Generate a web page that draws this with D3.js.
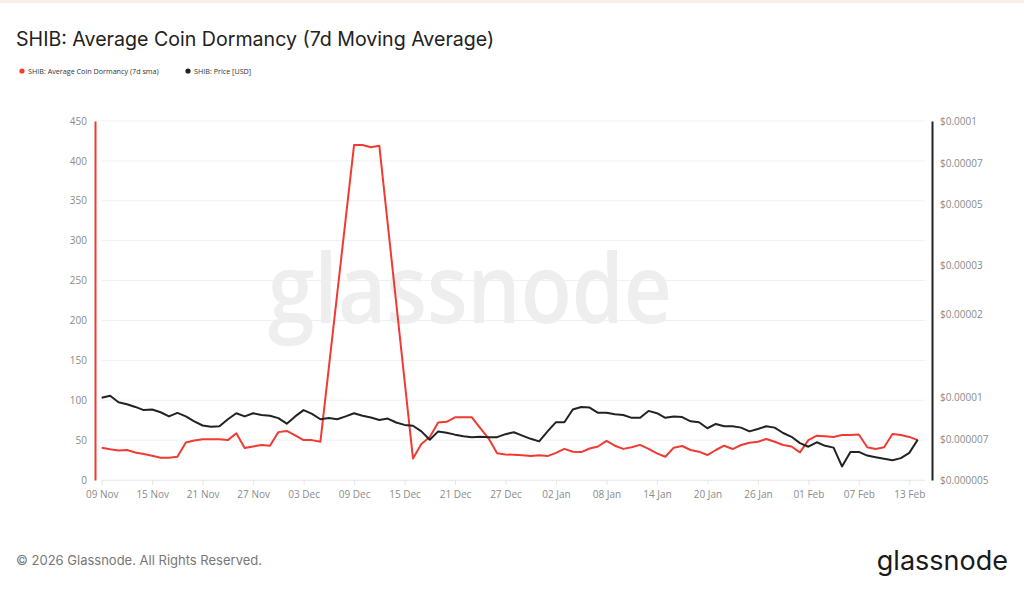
<!DOCTYPE html>
<html>
<head>
<meta charset="utf-8">
<script src="https://cdn.jsdelivr.net/npm/d3@7"></script>
<style>
  body { margin: 0; background: #fff; }
  svg { display: block; }
  .tick text { font-family: "Open Sans", "Noto Sans", sans-serif; }
</style>
</head>
<body>
<svg id="chart" width="1024" height="589"></svg>
<script>
// daily values, 09 Nov 2025 .. 14 Feb 2026
let start_date = new Date(Date.UTC(2025, 10, 9));

let dormancy = [
  40.5, 38.5, 37, 37.5, 34.5, 32.5, 30.5, 28, 28, 29,
  47, 49.5, 51, 51, 51, 50, 58.5, 40, 42, 44,
  43, 60, 61.5, 56, 50, 50, 48, 141, 234, 327,
  420, 420, 417, 419, 321, 223, 125, 27, 45, 54,
  72, 73, 78.5, 78.5, 78.5, 65, 52, 33.5, 32, 31.5,
  31, 30, 31, 30, 34, 39, 35.5, 35, 39.5, 42,
  49, 43, 39, 41, 44, 39, 33.4, 29.2, 40.5, 42.6,
  37.6, 35.5, 31.3, 37.6, 43, 38.8, 43.9, 46.8, 48, 51.4,
  48, 43.9, 42, 34.7, 50, 55.6, 54.7, 54, 56.4, 56.4,
  57, 41, 38.8, 41, 57.6, 56.4, 54, 50
];

// price in millionths of a dollar
let price_micro = [
  9.94, 10.1, 9.57, 9.41, 9.2, 8.96, 9.0, 8.8, 8.5, 8.75,
  8.5, 8.16, 7.88, 7.8, 7.83, 8.3, 8.73, 8.5, 8.73, 8.6,
  8.55, 8.38, 8.0, 8.5, 8.96, 8.68, 8.3, 8.38, 8.3, 8.5,
  8.73, 8.55, 8.42, 8.25, 8.35, 8.08, 7.92, 7.86, 7.5, 7.0,
  7.5, 7.42, 7.3, 7.2, 7.14, 7.17, 7.15, 7.15, 7.33, 7.45,
  7.24, 7.05, 6.9, 7.5, 8.1, 8.1, 9.0, 9.2, 9.15, 8.76,
  8.76, 8.65, 8.6, 8.4, 8.4, 8.9, 8.73, 8.4, 8.5, 8.45,
  8.16, 8.1, 7.7, 7.98, 7.83, 7.83, 7.74, 7.5, 7.65, 7.83,
  7.74, 7.4, 7.17, 6.8, 6.6, 6.85, 6.65, 6.55, 5.6, 6.32,
  6.32, 6.13, 6.05, 5.97, 5.9, 6.0, 6.27, 7.0
];

let x_ticks = ["2025-11-09", "2025-11-15", "2025-11-21", "2025-11-27", "2025-12-03",
  "2025-12-09", "2025-12-15", "2025-12-21", "2025-12-27", "2026-01-02", "2026-01-08",
  "2026-01-14", "2026-01-20", "2026-01-26", "2026-02-01", "2026-02-07", "2026-02-13"];

let left_ticks = [0, 50, 100, 150, 200, 250, 300, 350, 400, 450];

let right_ticks = [0.000005, 0.000007, 0.00001, 0.00002, 0.00003, 0.00005, 0.00007, 0.0001];
let right_labels = ["$0.000005", "$0.000007", "$0.00001", "$0.00002", "$0.00003", "$0.00005", "$0.00007", "$0.0001"];

let RED = "#ef3b33";
let BLACK = "#222222";
let TEXT_GREY = "#8a8a8a";

let PLOT_LEFT = 101.7;
let PLOT_RIGHT = 925;
let PLOT_TOP = 121;
let PLOT_BOTTOM = 480;

let days = dormancy.map((d, i) => d3.utcDay.offset(start_date, i));
let series = days.map((d, i) => ({date: d, dorm: dormancy[i], price: price_micro[i] * 1e-6}));

let svg = d3.select('#chart');

// faint strip along the top edge
svg.append('rect')
  .attr('x', 0).attr('y', 0)
  .attr('width', 1024).attr('height', 3)
  .attr('fill', '#f7eee7');

let xScale = d3.scaleUtc()
  .domain([d3.utcParse("%Y-%m-%d")(x_ticks[0]), d3.utcParse("%Y-%m-%d")(x_ticks[x_ticks.length - 1])])
  .range([PLOT_LEFT, 909.3]);

let yLeft = d3.scaleLinear()
  .domain([0, 450])
  .range([PLOT_BOTTOM, PLOT_TOP]);

let yRight = d3.scaleLog()
  .domain([0.000005, 0.0001])
  .range([PLOT_BOTTOM, PLOT_TOP]);

// gridlines
svg.append('g')
  .selectAll('line')
  .data(left_ticks)
  .join('line')
  .attr('x1', PLOT_LEFT)
  .attr('x2', PLOT_RIGHT)
  .attr('y1', d => yLeft(d))
  .attr('y2', d => yLeft(d))
  .attr('stroke', '#f0f0f0')
  .attr('stroke-width', 1);

// watermark
svg.append('text')
  .attr('x', 268)
  .attr('y', 323)
  .attr('font-family', '"Open Sans", Inter, sans-serif')
  .attr('font-size', 96)
  .attr('font-weight', 600)
  .attr('textLength', 404)
  .attr('lengthAdjust', 'spacingAndGlyphs')
  .attr('fill', '#eeeeee')
  .text('glassnode');

// x axis
let xAxis = svg.append('g')
  .attr('transform', `translate(0,${PLOT_BOTTOM})`)
  .call(d3.axisBottom(xScale)
    .tickValues(x_ticks.map(d3.utcParse("%Y-%m-%d")))
    .tickFormat(d3.utcFormat("%d %b"))
    .tickSize(5)
    .tickPadding(6));
xAxis.select('.domain').attr('d', `M${PLOT_LEFT},0.5H${PLOT_RIGHT}`).attr('stroke', '#ececec');
xAxis.selectAll('.tick line').attr('stroke', '#e6e6e6');
xAxis.selectAll('.tick text').attr('fill', TEXT_GREY).attr('font-size', 10);

// left axis
let leftAxis = svg.append('g')
  .attr('transform', 'translate(95,0)')
  .call(d3.axisLeft(yLeft).tickValues(left_ticks).tickSize(0).tickPadding(8));
leftAxis.select('.domain').attr('stroke', RED).attr('stroke-width', 2);
leftAxis.selectAll('.tick text').attr('fill', TEXT_GREY).attr('font-size', 10);

// right axis
let rightAxis = svg.append('g')
  .attr('transform', 'translate(932,0)')
  .call(d3.axisRight(yRight).tickValues(right_ticks)
    .tickFormat((d, i) => right_labels[i])
    .tickSize(0).tickPadding(8));
rightAxis.select('.domain').attr('stroke', BLACK).attr('stroke-width', 2);
rightAxis.selectAll('.tick text').attr('fill', TEXT_GREY).attr('font-size', 10);

// lines
let dormLine = d3.line()
  .x(d => xScale(d.date))
  .y(d => yLeft(d.dorm));

let priceLine = d3.line()
  .x(d => xScale(d.date))
  .y(d => yRight(d.price));

svg.append('path')
  .datum(series)
  .attr('d', dormLine)
  .attr('fill', 'none')
  .attr('stroke', RED)
  .attr('stroke-width', 2)
  .attr('stroke-linejoin', 'round');

svg.append('path')
  .datum(series)
  .attr('d', priceLine)
  .attr('fill', 'none')
  .attr('stroke', BLACK)
  .attr('stroke-width', 2)
  .attr('stroke-linejoin', 'round');

// title
svg.append('text')
  .attr('x', 16)
  .attr('y', 46)
  .attr('font-family', 'Inter, "Open Sans", sans-serif')
  .attr('font-size', 19.6)
  .attr('fill', '#222')
  .text('SHIB: Average Coin Dormancy (7d Moving Average)');

// legend
let legend_items = [
  {label: 'SHIB: Average Coin Dormancy (7d sma)', color: RED, x: 22},
  {label: 'SHIB: Price [USD]', color: BLACK, x: 188}
];
let lg = svg.append('g')
  .selectAll('g')
  .data(legend_items)
  .join('g')
  .attr('transform', d => `translate(${d.x},71)`);
lg.append('circle')
  .attr('r', 2.6)
  .attr('fill', d => d.color);
lg.append('text')
  .attr('x', 6)
  .attr('dy', '0.35em')
  .attr('font-family', '"Open Sans", "Noto Sans", sans-serif')
  .attr('font-size', 7.2)
  .attr('fill', '#333')
  .text(d => d.label);

// footer
svg.append('text')
  .attr('x', 16)
  .attr('y', 565)
  .attr('font-family', 'Inter, "Open Sans", sans-serif')
  .attr('font-size', 13)
  .attr('fill', '#777')
  .text('© 2026 Glassnode. All Rights Reserved.');

svg.append('text')
  .attr('x', 1008)
  .attr('y', 570)
  .attr('text-anchor', 'end')
  .attr('font-family', 'Inter, "Open Sans", sans-serif')
  .attr('font-size', 27)
  .attr('fill', '#1a1a1a')
  .text('glassnode');
</script>
</body>
</html>
